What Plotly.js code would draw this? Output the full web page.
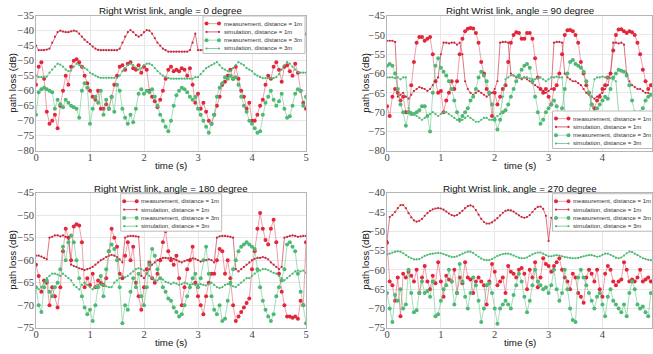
<!DOCTYPE html>
<html>
<head>
<meta charset="utf-8">
<script src="https://cdn.plot.ly/plotly-3.0.1.min.js"></script>
<style>html,body{margin:0;padding:0;background:#fff;}#chart{width:653px;height:354px;}</style>
</head>
<body>
<div id="chart"></div>
<script>
// ---------- data ----------
const time = [0,0.05,0.1,0.15,0.2,0.25,0.3,0.35,0.4,0.45,0.5,0.55,0.6,0.65,0.7,0.75,0.8,0.85,0.9,0.95,1,1.05,1.1,1.15,1.2,1.25,1.3,1.35,1.4,1.45,1.5,1.55,1.6,1.65,1.7,1.75,1.8,1.85,1.9,1.95,2,2.05,2.1,2.15,2.2,2.25,2.3,2.35,2.4,2.45,2.5,2.55,2.6,2.65,2.7,2.75,2.8,2.85,2.9,2.95,3,3.05,3.1,3.15,3.2,3.25,3.3,3.35,3.4,3.45,3.5,3.55,3.6,3.65,3.7,3.75,3.8,3.85,3.9,3.95,4,4.05,4.1,4.15,4.2,4.25,4.3,4.35,4.4,4.45,4.5,4.55,4.6,4.65,4.7,4.75,4.8,4.85,4.9,4.95,5];

const seriesNames = ['measurement, distance = 1m','simulation, distance = 1m','measurement, distance = 3m','simulation, distance = 3m'];
const titles = ['Right Wrist link, angle = 0 degree','Right Wrist link, angle = 90 degree','Right Wrist link, angle = 180 degree','Right Wrist link, angle = 270 degree'];
const xTitle = 'time (s)';
const yTitle = 'path loss (dB)';

// angle = 0
const a0_meas1 = [-58,-52,-50.5,-56,-67,-71,-70,-68,-72.5,-65, -60,-55,-58,-52,-50,-49.5,-50.5,-52,-55,-57.5, -60,-62,-63,-60,-66,-66,-64.5,-66,-62,-58, -55,-52,-51.5,-53,-51,-50.5,-52.5,-53,-51.5,-54, -52,-53,-60,-62,-63.5,-65.5,-63,-60,-56,-53, -52,-53.5,-53,-53.5,-52.5,-53,-55,-52.5,-58,-64, -61,-66,-64,-67,-70,-71,-68,-65,-62,-58, -57,-55,-53,-56,-52,-56,-60,-62,-66,-64, -70,-70,-68,-65,-63,-58,-55,-56,-52,-50.5, -53,-57,-52,-51.5,-53.5,-55,-51,-54,-60,-64, -66];
const a0_sim1 = [-45,-46.5,-46.5,-46.5,-46.3,-46,-44,-42,-40.5,-40, -40.3,-40.5,-40.5,-40.2,-40,-40.2,-41,-42,-43,-43.8, -44.5,-45.3,-46,-46.4,-46.5,-46.5,-46.5,-46.5,-46.5,-46.5, -46.5,-46,-44,-42,-40.5,-39.8,-40.5,-41.5,-42,-41.5, -40.5,-39.8,-40,-41,-42.5,-44,-45,-46,-46.5,-47, -47,-47,-47,-47,-47,-47,-47,-46.5,-44,-41, -46.5,-46.5,-46.5,-46.5,-46.3,-45.5,-44,-42.5,-41.5,-41, -41.5,-42.5,-43.5,-44,-43,-42,-41.5,-42,-43,-44.5, -45.5,-46.3,-46.5,-46.5,-46.5,-46.5,-46.5,-45.5,-43.5,-42, -41.5,-42,-43,-44.5,-46,-46.5,-46.5,-46,-44,-42.5, -41];
const a0_meas3 = [-68,-60.5,-59.5,-59,-59.5,-60,-60.5,-66,-63,-64.5, -65.5,-63,-64,-65,-65.5,-66,-69,-60,-57.5,-59, -71,-66,-62,-64,-60,-68,-63,-66,-62,-67, -58,-60,-66,-69,-71,-68,-70.5,-66,-61,-59.5, -61,-60,-60.5,-59.5,-62,-65,-68,-70,-72,-73.5, -70,-65,-61.5,-60,-59,-59.5,-60.5,-62,-63,-62, -66,-68,-70,-72,-74,-71,-68,-62,-59,-57.5, -55.5,-56,-55,-56,-55.5,-58,-62,-65,-67,-70, -71,-72.5,-74,-73.5,-68,-64,-62,-60,-63,-65, -63.5,-61,-66,-69,-68.5,-65,-61,-59.5,-60,-65, -62];
const a0_sim3 = [-55,-55.5,-55.5,-55.5,-55.3,-54,-53,-52,-51,-51.3, -52,-53,-53.5,-53.3,-52,-51,-51.5,-52,-52.5,-53, -54,-54.5,-55,-55.5,-55.7,-55.7,-55.7,-55.7,-55.7,-55.7, -55.7,-55,-53.5,-52.5,-51.5,-51,-51.5,-52.3,-53,-52.5, -51.5,-51,-51,-51.5,-52.5,-53.5,-54.3,-55,-55.5,-55.8, -56,-56,-56,-56,-56,-56,-56,-56,-56,-55.5, -55.5,-54.5,-53.5,-52.5,-52,-51.5,-51,-50.5,-51.5,-52.5, -53,-53.5,-53.5,-52.5,-51.5,-50.5,-51,-51.5,-52.5,-53, -53.5,-54.5,-55,-55.5,-55.8,-55.8,-55.8,-55.8,-55.8,-55.5, -54.5,-53,-51.5,-50.5,-51,-52,-53,-53.8,-54,-54, -54];

// angle = 90
const a90_meas1 = [-68.5,-71,-66,-64,-65,-67,-66,-70,-70,-63, -57,-52,-50.5,-50.5,-51.5,-51,-50.5,-55,-62,-65, -64.5,-70,-67,-65,-62,-64,-62,-55,-51,-49, -48.4,-48.2,-48.3,-49.5,-52,-57,-60,-64,-65,-71, -65,-68,-66,-64,-63,-57,-52,-50,-49.3,-49.5, -51,-51,-49.5,-49.5,-51,-56,-61,-64,-65,-64, -66,-68,-64,-63,-60,-55,-50,-48.8,-48.7,-49, -50,-52,-57,-60,-63,-65,-68,-69,-67,-66, -64,-63,-61,-60,-54,-50,-48.6,-48.5,-49,-49.5, -49,-49.3,-50,-52,-55,-59,-62,-64,-63];
const a90_sim1 = [-51.5,-51.5,-51.5,-51.8,-66,-65.5,-65,-66,-66.5,-65.5, -64.5,-64,-63.5,-63.8,-64,-64.5,-64,-63,-62,-61, -55,-52,-52,-52.2,-52,-52,-52.5,-52,-55,-62, -64,-65,-65.5,-65,-64.5,-65,-65.5,-66,-65.5,-65, -64,-62,-52,-51.8,-51.8,-52,-60,-60.5,-61,-61, -61.5,-61,-61.5,-62,-62.5,-63,-63.5,-64,-64.5,-65, -64.5,-64,-52,-51.8,-51.8,-52,-60,-61,-61.5,-62, -62,-62.5,-63,-64,-65,-65.5,-66,-66.5,-66,-65.5, -65,-64,-63,-60,-52,-52,-52.2,-52,-52.5,-60, -62,-63,-63.5,-64,-64,-64.5,-65,-65,-65.5];
const a90_meas3 = [-58,-57.5,-58,-60,-64,-68,-70,-73.5,-70,-70.5, -70.5,-70,-69.5,-68.5,-68.5,-71,-75,-65,-58,-56, -58.5,-59.5,-60.5,-62,-64,-67,-70,-72,-71,-70, -69,-67,-66,-64,-61,-59.5,-60.5,-62,-65,-68, -72,-74.5,-72,-70,-69.5,-68,-66,-64,-62,-60.5, -59,-58,-57.5,-58.5,-62,-66,-70,-73,-72,-70, -69,-68,-67,-68.5,-72,-69,-64,-60,-57,-56.5, -57.5,-58,-58.5,-59.5,-62,-65,-68,-70,-69,-68, -67,-66,-66.5,-64,-61,-60,-59,-59.3,-59.5,-60.5, -63,-67,-70,-71,-70,-69,-67,-66,-65.5];
const a90_sim3 = [-61,-61,-61,-61.2,-61,-61.5,-61,-61,-69,-70, -70.5,-71,-71.5,-72,-71.5,-71,-70.5,-70,-70.5,-71, -70.5,-70,-70,-70.5,-71,-71.5,-72,-72.5,-72,-71.5, -71,-71.5,-72,-72.5,-72.5,-72,-71.5,-71.5,-72,-72, -71.5,-71,-70.5,-66,-61.5,-61,-60.5,-60.5,-60.8,-61, -61.2,-61,-61,-61.3,-61.5,-61.5,-61.2,-61,-61.5,-62, -61.5,-61,-61,-60.8,-61,-61,-70,-70.5,-71,-71, -70.5,-70,-70,-70.5,-71,-70.5,-66,-61.5,-61,-61, -60.8,-61,-61,-61.2,-61.5,-62,-70,-70.5,-70.5,-71, -70.5,-70,-70,-70.5,-71,-70.5,-70,-70,-70.5];

// angle = 180
const a180_meas1 = [-61,-63.5,-67,-64.5,-65,-70,-66,-68,-70.5,-66, -58,-53,-55,-60,-52.5,-52,-52.3,-56,-66,-64, -65.5,-63,-66,-64.5,-65,-65.5,-64,-58,-53,-55, -57,-63,-64,-59,-56,-60,-57,-65,-68,-71, -66,-62,-60.5,-64,-65,-63,-60,-56,-53.5,-58, -60,-61,-59,-64,-70,-66,-62,-60,-57,-65, -68,-70,-72,-68,-65,-63,-63,-60,-57.5,-58, -63,-60,-64,-70,-73.5,-72.5,-71.5,-70.5,-69.5,-68.5, -62,-58,-53,-49.5,-53,-55.5,-56.5,-53,-51,-56, -63,-67,-70,-72.5,-72.5,-72.8,-72.5,-73,-69,-70, -56];
const a180_sim1 = [-59,-59,-59.2,-59.5,-59.8,-55,-54.8,-54.5,-54.5,-54.7, -54.5,-54.8,-55,-61,-61.3,-61.5,-61.8,-62,-62.2,-62, -61.8,-61.5,-61,-60.5,-60,-59.7,-59.3,-59,-58.8,-59, -59.3,-59.8,-60.5,-55,-54.7,-54.6,-54.6,-54.7,-54.8,-63.5, -64,-63,-62,-61,-60.5,-60,-59.7,-59.5,-59.5,-59.6, -59.5,-59.7,-60,-60.3,-60.5,-60.2,-60,-59.8,-59.6,-59.7, -60,-60.3,-60.2,-60,-59.8,-60,-60.5,-55,-54.7,-54.6, -54.6,-54.7,-54.8,-55,-62,-62.5,-62,-61.5,-61,-60.5, -60,-59.7,-59.5,-59.5,-59.3,-59.5,-59.8,-60.5,-61,-61.5, -62,-61.5,-55,-54.8,-54.6,-54.5,-54.6,-54.8,-54.7,-54.6, -54.6];
const a180_meas3 = [-66,-70,-71.5,-66,-64.5,-67,-68,-66,-65,-62, -57,-60,-56,-54.5,-56,-60,-64,-68,-70.5,-72, -71,-73.5,-70,-66,-63.5,-68,-62,-58,-56.5,-57.5, -60,-66,-74,-70,-71,-67,-64,-66,-63,-68, -70,-66,-61,-57.5,-59,-62,-64,-66,-67,-68.5, -69,-70.5,-71.5,-72.5,-72,-70,-68,-66,-64,-63, -66,-64,-60,-57,-63,-68,-71,-72,-70,-73.5, -73,-69,-65,-62,-60,-58,-57,-56.5,-56,-56.5, -57,-57.5,-62,-66,-69,-71,-72.5,-73.5,-72,-68, -66,-64.5,-62,-56.5,-56,-57,-58,-63,-67,-70, -74];
const a180_sim3 = [-66,-66.5,-66,-65,-64,-63.5,-63,-63,-63.2,-63.5, -63,-63.5,-64,-64.5,-65.5,-66,-66.5,-65.5,-65,-65.5, -66,-66.5,-66,-65.5,-65.5,-65.5,-65.8,-66,-66,-65, -64.5,-64,-63.5,-63.8,-63.5,-63,-62.5,-62,-61.8,-62, -62.3,-63,-63.5,-64,-64.5,-64.5,-64,-64.3,-64.8,-65, -65.3,-65,-65.2,-65.5,-65.3,-65,-65.2,-65.5,-65.3,-65.5, -65.5,-65.3,-65.5,-65.6,-65.3,-65,-65.5,-66,-66.2,-66, -65.5,-65.3,-65.5,-65.8,-66,-65.5,-65,-64.5,-64,-64, -63.5,-63,-62.5,-62.3,-62,-62,-62.2,-62.5,-62.8,-63, -63.5,-64,-64.5,-64,-63.5,-63,-62.5,-62.3,-62.5,-62.3, -62.8];

// angle = 270
const a270_meas1 = [-53,-63,-64,-68,-62,-72,-61,-62,-60.5,-61.5, -63,-60,-66,-62,-59,-63,-65,-61.5,-63.5,-58, -63,-67,-61.5,-62.5,-63,-60,-66,-62,-63.5,-58, -62,-62.5,-66,-63,-62,-63,-64,-69,-63,-58.5, -60.5,-64,-63,-62,-66,-59,-60.5,-61,-62,-60, -59.5,-61,-65,-60,-62,-58,-64.5,-62,-57,-58.5, -59,-60.5,-59,-58,-57,-60,-62,-63,-65,-61, -62,-66,-67,-68.5,-62,-60,-61,-63,-60,-65, -67,-61,-59,-60,-63,-64,-63,-62.5,-58,-60, -63,-62.5,-63,-62,-60,-63,-62.5,-62,-63];
const a270_sim1 = [-52.5,-46.3,-45.8,-45,-44,-43.2,-43.2,-44,-45.3,-46.4, -47.2,-47.5,-47.3,-46.8,-46,-45.3,-44.7,-44.3,-44.1,-44, -44.1,-44.4,-44.9,-45.4,-45.8,-46,-45.8,-45.3,-44.7,-44, -43.5,-43.3,-43.6,-44.5,-45.7,-46.8,-47.6,-48,-48,-47.7, -47.2,-46.6,-45.9,-45.2,-44.7,-44.5,-44.6,-44.9,-45.4,-45.9, -46.3,-46.5,-46.3,-45.8,-45,-44.2,-43.7,-43.6,-44.2,-46, -52.5,-46.5,-46,-45,-44,-43.5,-43.8,-44.8,-46,-47, -47.5,-47.3,-46.5,-45.5,-44.8,-44.3,-44,-44.3,-45,-45.7, -46,-45.6,-44.8,-44,-43.5,-43.6,-44.5,-45.8,-47,-47.8, -48,-47.6,-46.8,-45.8,-45,-44.6,-44.7,-45.2,-45.8];
const a270_meas3 = [-66,-70,-73.5,-66.5,-68,-65,-70,-69,-60,-66, -71,-70.5,-66,-63,-66,-65.5,-67,-63,-72,-71.5, -68,-65,-64,-60,-63,-69,-66,-58.5,-63,-67, -70,-66,-62,-64,-68,-73.5,-70,-64,-63.5,-66, -70,-74,-70,-69,-68,-69,-70,-66.5,-64,-61, -63,-67,-71,-68,-64,-60,-63,-64,-65,-64.5, -66,-64,-60,-65,-68,-66,-60,-65,-70,-73, -73.5,-62,-60,-62,-64,-66,-68,-70,-67,-66, -69,-72,-67,-65,-68,-69,-70,-71,-69,-72, -66,-63,-65,-69,-70,-69.5,-71,-72,-66];
const a270_sim3 = [-56,-55.8,-55.5,-55.3,-55.2,-55.3,-55.7,-56.2,-56.7,-57, -57.3,-57.3,-57.2,-56.8,-56.4,-56.1,-55.9,-55.8,-55.7,-55.6, -55.7,-55.9,-56.2,-56.5,-56.7,-56.7,-56.5,-56.2,-55.8,-55.5, -55.3,-55.3,-55.6,-56.1,-56.6,-57.1,-57.4,-57.5,-57.5,-57.2, -56.8,-56.4,-56.1,-55.9,-55.8,-55.8,-56,-56.3,-56.6,-56.9, -57,-57,-56.8,-56.4,-56,-55.7,-55.5,-55.5,-55.8,-56.2, -56.5,-56.5,-56.3,-56.2,-56.3,-56.5,-56.7,-56.8,-56.9,-57, -57,-56.9,-56.7,-56.5,-56.3,-56.2,-56.2,-56.4,-56.6,-56.5, -56.1,-55.8,-55.8,-56.1,-56.5,-56.9,-57,-56.8,-56.3,-55.7, -55.3,-55.4,-55.8,-56.2,-56.6,-57,-57.2,-57.4,-57.5];

const yRanges = [[-80,-35],[-80,-45],[-75,-45],[-75,-40]];
const xRanges = [[0,5],[0,4.92],[0,5],[0,4.92]];

// ---------- layout helpers ----------
const W = 653, H = 354;
const px = v => v / W;
const py = v => 1 - v / H;

const panels = [
  {x0:36, x1:306, y0:15.7, y1:150.7, data:[a0_meas1,a0_sim1,a0_meas3,a0_sim3], leg:{l:203, t:16, w:102}, ylab:12.5, xlabY:165, titleY:10.5},
  {x0:387, x1:652, y0:15.7, y1:150.7, data:[a90_meas1,a90_sim1,a90_meas3,a90_sim3], leg:{l:552.5, t:111, w:100}, ylab:365.5, xlabY:165, titleY:10.5},
  {x0:36, x1:306, y0:192.7, y1:327.7, data:[a180_meas1,a180_sim1,a180_meas3,a180_sim3], leg:{l:120.7, t:193.7, w:101}, ylab:12.5, xlabY:342, titleY:188},
  {x0:387, x1:652, y0:192.7, y1:327.7, data:[a270_meas1,a270_sim1,a270_meas3,a270_sim3], leg:{l:552.5, t:193.7, w:100}, ylab:365.5, xlabY:342, titleY:188}
];

const styles = [
  {mc:'#e3263a', ms:4, lc:'rgba(228,80,100,0.55)', lw:1},
  {mc:'#c8283c', ms:2.2, lc:'rgba(205,50,70,0.75)', lw:0.9},
  {mc:'#4fb874', ms:4, lc:'rgba(90,195,130,0.55)', lw:1},
  {mc:'#4fb874', ms:2.2, lc:'rgba(90,195,130,0.75)', lw:0.9}
];

const serifFamily = 'Liberation Serif';
const sansFont = 'Liberation Sans';

const traces = [];
const layout = {
  width: W, height: H,
  margin: {l:0, r:0, t:0, b:0},
  paper_bgcolor:'#fff', plot_bgcolor:'#fff',
  font: {family: serifFamily, size: 10.5, color: '#444'},
  showlegend:false,
  annotations: [], shapes: []
};

panels.forEach((p, i) => {
  const n = i === 0 ? '' : String(i + 1);
  const xa = 'x' + n, ya = 'y' + n;
  layout['xaxis' + n] = {
    domain:[px(p.x0), px(p.x1)], anchor: ya, range: xRanges[i],
    tick0:0, dtick:1, showgrid:true, gridcolor:'#e8e8e8', gridwidth:1,
    showline:true, mirror:true, linecolor:'#b5b5b5', linewidth:1,
    zeroline:false, ticks:'', tickfont:{family:serifFamily, size:10.5, color:'#444'},
    ticklabelstandoff:-3, fixedrange:true
  };
  layout['yaxis' + n] = {
    domain:[py(p.y1), py(p.y0)], anchor: xa, range: yRanges[i],
    tick0:0, dtick:5, showgrid:true, gridcolor:'#e8e8e8', gridwidth:1,
    showline:true, mirror:true, linecolor:'#b5b5b5', linewidth:1,
    zeroline:false, ticks:'', tickfont:{family:serifFamily, size:10.5, color:'#444'},
    ticklabelstandoff:-1, fixedrange:true
  };
  p.data.forEach((vals, k) => {
    const s = styles[k];
    traces.push({
      type:'scatter', mode:'lines+markers', name: seriesNames[k],
      x: time.slice(0, vals.length), y: vals, xaxis: xa, yaxis: ya,
      line:{color:s.lc, width:s.lw},
      marker:{color:s.mc, size:s.ms, line:{width:0}},
      cliponaxis:true, hoverinfo:'skip'
    });
  });
  layout.annotations.push({text: titles[i], xref:'paper', yref:'paper', x: px((p.x0+p.x1)/2), y: py(p.titleY),
    xanchor:'center', yanchor:'middle', showarrow:false, font:{family:sansFont, size:9.7, color:'#111'}});
  layout.annotations.push({text: xTitle, xref:'paper', yref:'paper', x: px((p.x0+p.x1)/2), y: py(p.xlabY),
    xanchor:'center', yanchor:'middle', showarrow:false, font:{family:sansFont, size:9.7, color:'#111'}});
  layout.annotations.push({text: yTitle, xref:'paper', yref:'paper', x: px(p.ylab), y: py((p.y0+p.y1)/2),
    xanchor:'center', yanchor:'middle', textangle:-90, showarrow:false, font:{family:sansFont, size:9.7, color:'#111'}});

  // legend (box, glyphs, labels)
  const L = p.leg.l, T = p.leg.t, LW = p.leg.w, LH = 37.5;
  layout.shapes.push({type:'rect', xref:'paper', yref:'paper', layer:'above',
    x0: px(L), x1: px(L+LW), y0: py(T+LH), y1: py(T),
    fillcolor:'#fff', line:{color:'#bdbdbd', width:1}});
  [7.6, 15.9, 24.2, 32.5].forEach((dy, k) => {
    const s = styles[k];
    const yy = py(T + dy);
    const gx0 = L + 3.5, gx1 = L + 16;
    layout.shapes.push({type:'line', xref:'paper', yref:'paper', layer:'above',
      x0: px(gx0), x1: px(gx1), y0: yy, y1: yy, line:{color:s.lc, width:1}});
    [gx0, gx1].forEach(gx => {
      const r = s.ms / 2;
      layout.shapes.push({type:'circle', xref:'paper', yref:'paper', layer:'above',
        xsizemode:'pixel', ysizemode:'pixel', xanchor: px(gx), yanchor: yy,
        x0:-r, x1:r, y0:-r, y1:r, fillcolor:s.mc, line:{width:0}});
    });
    layout.annotations.push({text: seriesNames[k], xref:'paper', yref:'paper', x: px(L + 18.5), y: yy,
      xanchor:'left', yanchor:'middle', showarrow:false, font:{family:sansFont, size:6.05, color:'#333'}});
  });
});

Plotly.newPlot('chart', traces, layout, {displayModeBar:false, staticPlot:true});
</script>
</body>
</html>
